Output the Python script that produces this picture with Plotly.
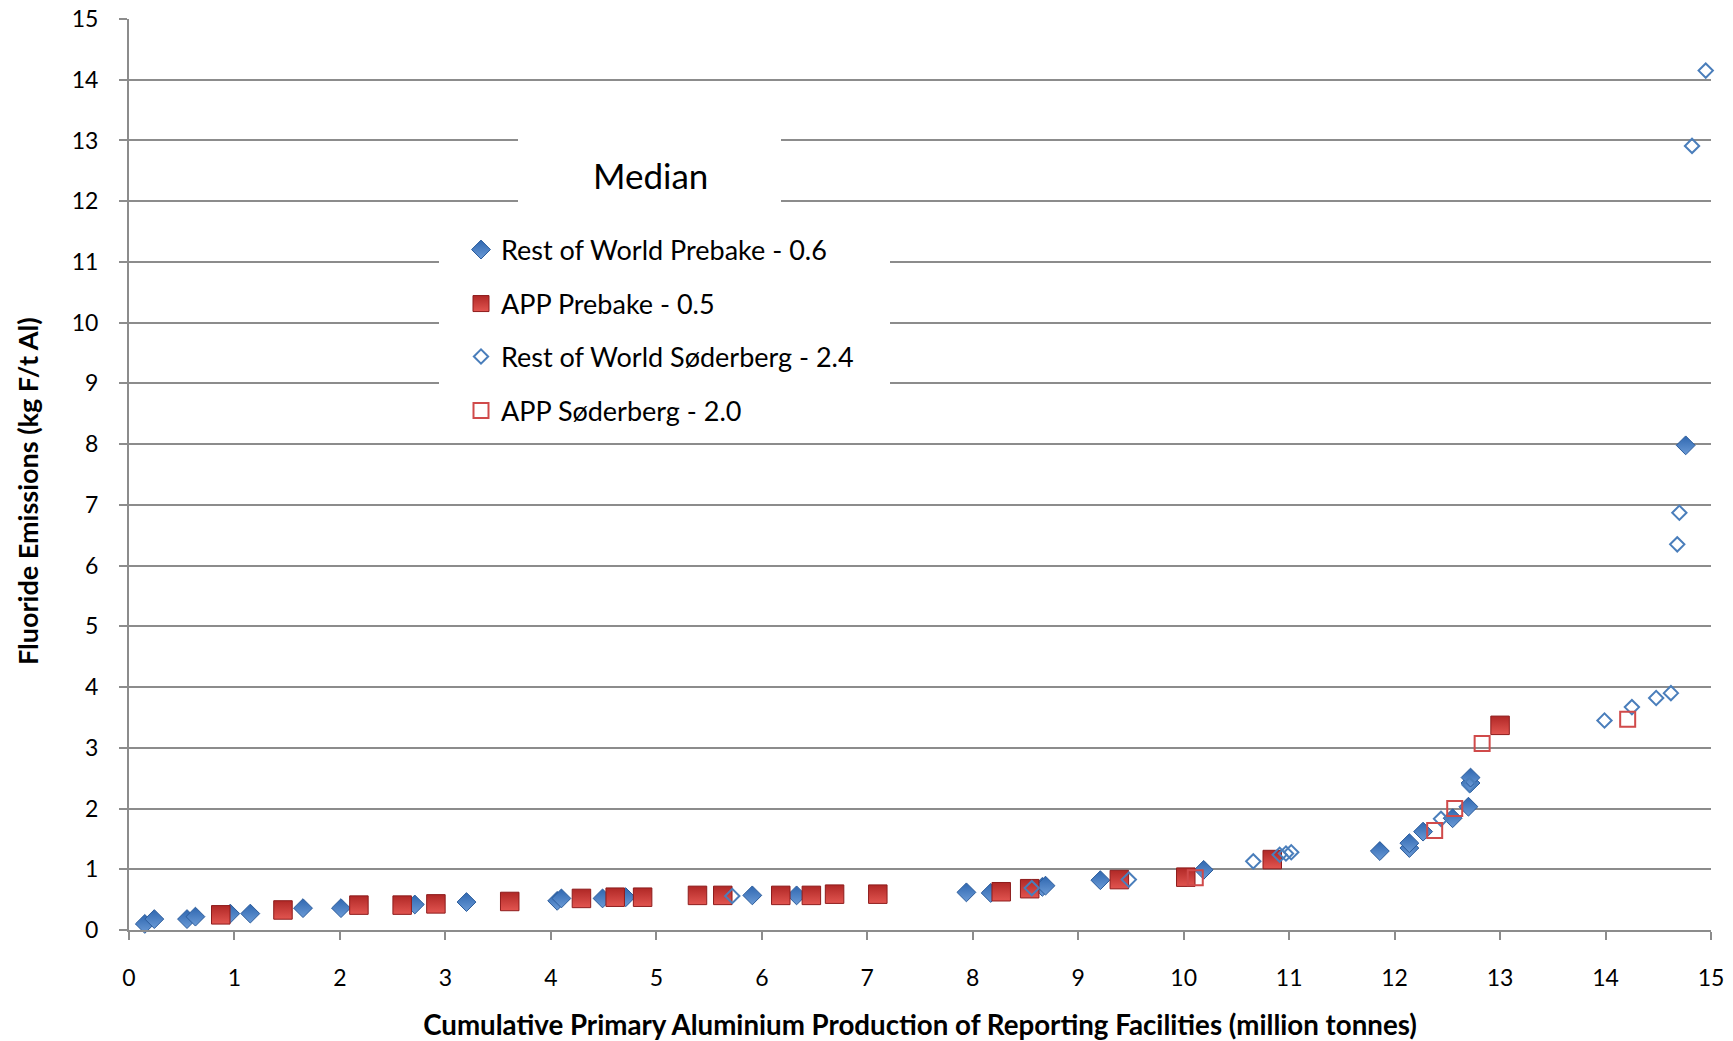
import plotly.graph_objects as go

# ---- data ----
row_prebake_x = [0.15, 0.24, 0.55, 0.63, 0.96, 1.15, 1.65, 2.01, 2.71, 3.20, 4.06, 4.10, 4.49, 4.71,
                 5.91, 6.33, 7.94, 8.17, 8.66, 8.69, 9.21, 10.19, 11.86, 12.14, 12.14, 12.27, 12.55,
                 12.70, 12.72, 12.72, 14.76]
row_prebake_y = [0.10, 0.18, 0.18, 0.22, 0.27, 0.27, 0.36, 0.36, 0.42, 0.46, 0.48, 0.52, 0.52, 0.54,
                 0.57, 0.57, 0.62, 0.61, 0.71, 0.73, 0.82, 0.99, 1.30, 1.35, 1.43, 1.62, 1.84,
                 2.03, 2.42, 2.51, 7.98]

app_prebake_x = [0.87, 1.46, 2.18, 2.59, 2.91, 3.61, 4.29, 4.61, 4.87, 5.39, 5.63, 6.18, 6.47, 6.69,
                 7.10, 8.27, 8.54, 9.39, 10.02, 10.84, 13.00]
app_prebake_y = [0.25, 0.33, 0.41, 0.41, 0.43, 0.47, 0.52, 0.54, 0.54, 0.57, 0.57, 0.57, 0.57, 0.59,
                 0.59, 0.63, 0.68, 0.83, 0.87, 1.16, 3.37]

row_soderberg_x = [5.72, 8.56, 9.48, 10.66, 10.91, 10.97, 11.02, 12.44, 12.71, 13.99, 14.25, 14.48,
                   14.62, 14.68, 14.70, 14.82, 14.95]
row_soderberg_y = [0.56, 0.69, 0.83, 1.13, 1.24, 1.26, 1.28, 1.83, 2.39, 3.45, 3.67, 3.82,
                   3.90, 6.35, 6.87, 12.91, 14.15]

app_soderberg_x = [10.11, 12.38, 12.57, 12.83, 14.21]
app_soderberg_y = [0.86, 1.64, 2.00, 3.07, 3.47]

series_names = ["Rest of World Prebake - 0.6", "APP Prebake - 0.5",
                "Rest of World Søderberg - 2.4", "APP Søderberg - 2.0"]

x_ticks = list(range(0, 16))
y_ticks = list(range(0, 16))

x_title = "Cumulative Primary Aluminium Production of Reporting Facilities (million tonnes)"
y_title = "Fluoride Emissions (kg F/t Al)"
legend_title = "Median"

FONT = "Lato"
BLUE = "#2f67b0"
BLUE_LIGHT = "#6a9ad6"
BLUE_EDGE = "#2a5b9b"
RED = "#b02826"
RED_LIGHT = "#e25550"
RED_EDGE = "#8e1c1c"
GRID = "#8c8c8c"

fig = go.Figure()

fig.add_trace(go.Scatter(
    x=row_prebake_x, y=row_prebake_y, mode="markers", name=series_names[0],
    legend="legend", cliponaxis=False, showlegend=True,
    marker=dict(symbol="diamond", size=14.5, color=BLUE,
                gradient=dict(type="vertical", color=BLUE_LIGHT),
                line=dict(color=BLUE_EDGE, width=1))))
fig.add_trace(go.Scatter(
    x=app_prebake_x, y=app_prebake_y, mode="markers", name=series_names[1],
    legend="legend2", cliponaxis=False, showlegend=True,
    marker=dict(symbol="square", size=18.5, color=RED,
                gradient=dict(type="vertical", color=RED_LIGHT),
                line=dict(color=RED_EDGE, width=1))))
fig.add_trace(go.Scatter(
    x=row_soderberg_x, y=row_soderberg_y, mode="markers", name=series_names[2],
    legend="legend3", cliponaxis=False, showlegend=True,
    marker=dict(symbol="diamond-open", size=11, color="#4a7ebb",
                line=dict(color="#4a7ebb", width=2))))
fig.add_trace(go.Scatter(
    x=app_soderberg_x, y=app_soderberg_y, mode="markers", name=series_names[3],
    legend="legend4", cliponaxis=False, showlegend=True,
    marker=dict(symbol="square-open", size=15, color="#d04a4a",
                line=dict(color="#d04a4a", width=2))))

# plot area in pixels: left 129, right 1711, top 19, bottom 930
PL, PR, PT, PB = 129, 1711, 19, 930
def px_x(p):
    return (p - PL) / (PR - PL)
def px_y(p):
    return (PB - p) / (PB - PT)

leg_common = dict(xanchor="left", yanchor="middle", bgcolor="rgba(0,0,0,0)",
                  font=dict(family=FONT, size=27, color="#000000"), itemsizing="trace")
legend_rows = [250, 304, 357, 411]
lx = px_x(461)
fig.update_layout(
    showlegend=True,
    legend=dict(x=lx, y=px_y(legend_rows[0]), **leg_common),
    legend2=dict(x=lx, y=px_y(legend_rows[1]), **leg_common),
    legend3=dict(x=lx, y=px_y(legend_rows[2]), **leg_common),
    legend4=dict(x=lx, y=px_y(legend_rows[3]), **leg_common),
)

# white boxes behind the legend and its title
fig.add_shape(type="rect", xref="paper", yref="paper", layer="above",
              x0=px_x(439), x1=px_x(890), y0=px_y(436), y1=px_y(228),
              fillcolor="white", line=dict(width=0))
fig.add_shape(type="rect", xref="paper", yref="paper", layer="above",
              x0=px_x(518), x1=px_x(781), y0=px_y(206), y1=px_y(136),
              fillcolor="white", line=dict(width=0))
fig.add_annotation(text=legend_title, xref="paper", yref="paper",
                   x=px_x(650), y=px_y(175), xanchor="center", yanchor="middle",
                   showarrow=False, font=dict(family=FONT, size=35, color="#000000"))

# y-axis title (placed slightly below the plot centre, as in the reference)
fig.add_annotation(text="<b>" + y_title + "</b>", xref="paper", yref="paper",
                   x=px_x(27), y=px_y(491), xanchor="center", yanchor="middle",
                   textangle=-90, showarrow=False,
                   font=dict(family=FONT, size=27, color="#000000"))

fig.update_layout(
    width=1733, height=1041,
    margin=dict(l=PL, r=1733 - PR, t=PT, b=1041 - PB, autoexpand=False),
    paper_bgcolor="white", plot_bgcolor="white",
    font=dict(family=FONT, color="#000000"),
    xaxis=dict(range=[0, 15], tickvals=x_ticks, showgrid=False, zeroline=False,
               automargin=False,
               showline=True, linecolor=GRID, linewidth=2,
               ticks="outside", ticklen=8, tickwidth=2, tickcolor=GRID,
               ticklabelstandoff=18,
               tickfont=dict(family=FONT, size=23, color="#000000"),
               title=dict(text="<b>" + x_title + "</b>", standoff=26,
                          font=dict(family=FONT, size=27.7, color="#000000"))),
    yaxis=dict(range=[0, 15], tickvals=y_ticks, showgrid=True, gridcolor=GRID, gridwidth=1.5,
               automargin=False,
               zeroline=False, showline=True, linecolor=GRID, linewidth=2,
               ticks="outside", ticklen=8, tickwidth=2, tickcolor=GRID,
               ticklabelstandoff=16,
               tickfont=dict(family=FONT, size=23, color="#000000")),
)

fig.write_html("out.html")
